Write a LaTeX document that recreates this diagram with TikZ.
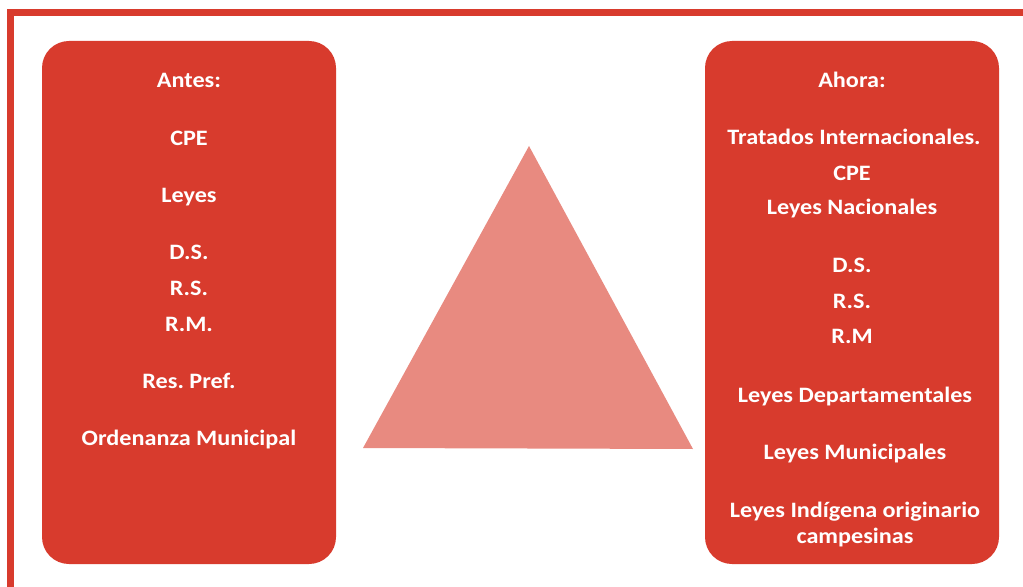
\documentclass[tikz,border=0pt]{standalone}
\usepackage{fontspec}
\setmainfont{Carlito}
\newfontfamily\panelfont[FakeStretch=1.1]{Carlito}
\frenchspacing
\definecolor{boxred}{HTML}{D83B2D}
\definecolor{trired}{HTML}{E88A80}
\begin{document}
\begin{tikzpicture}[x=1bp,y=-1bp,
  panel/.style={fill=boxred, draw=none, rounded corners=27bp},
  entry/.style={anchor=base, text=white, font=\panelfont\bfseries\fontsize{22bp}{26bp}\selectfont, inner sep=0pt}]
\useasboundingbox (0,0) rectangle (1023,587);
% frame strips along the top and the left
\fill[boxred] (7,9) rectangle (1023,16);
\fill[boxred] (7,9) rectangle (14,587);
% the two panels
\path[panel] (42,41) rectangle (336,564);
\path[panel] (705,41) rectangle (999,564);
% central triangle
\coordinate (apex) at (529,146);
\coordinate (bl) at (363,448);
\coordinate (br) at (693,449);
\fill[trired] (apex) -- (bl) -- (br) -- cycle;
% left panel texts
\node[entry] (a0) at (189,88) {Antes:};
\node[entry] (a1) at (189,146) {CPE};
\node[entry] (a2) at (189,203) {Leyes};
\node[entry] (a3) at (189,260) {D.S.};
\node[entry] (a4) at (189,296) {R.S.};
\node[entry] (a5) at (189,331) {R.M.};
\node[entry] (a6) at (189,388) {Res. Pref.};
\node[entry] (a7) at (189,445) {Ordenanza Municipal};
% right panel texts
\node[entry] (b0) at (852,88) {Ahora:};
\node[entry] (b1) at (854,145) {Tratados Internacionales.};
\node[entry] (b2) at (852,181) {CPE};
\node[entry] (b3) at (852,215) {Leyes Nacionales};
\node[entry] (b4) at (852,273) {D.S.};
\node[entry] (b5) at (852,308) {R.S.};
\node[entry] (b6) at (852,343) {R.M};
\node[entry] (b7) at (855,402) {Leyes Departamentales};
\node[entry] (b8) at (855,459) {Leyes Municipales};
\node[entry] (b9) at (855,517) {Leyes Indígena originario};
\node[entry] (b10) at (855,543) {campesinas};
\end{tikzpicture}
\end{document}
